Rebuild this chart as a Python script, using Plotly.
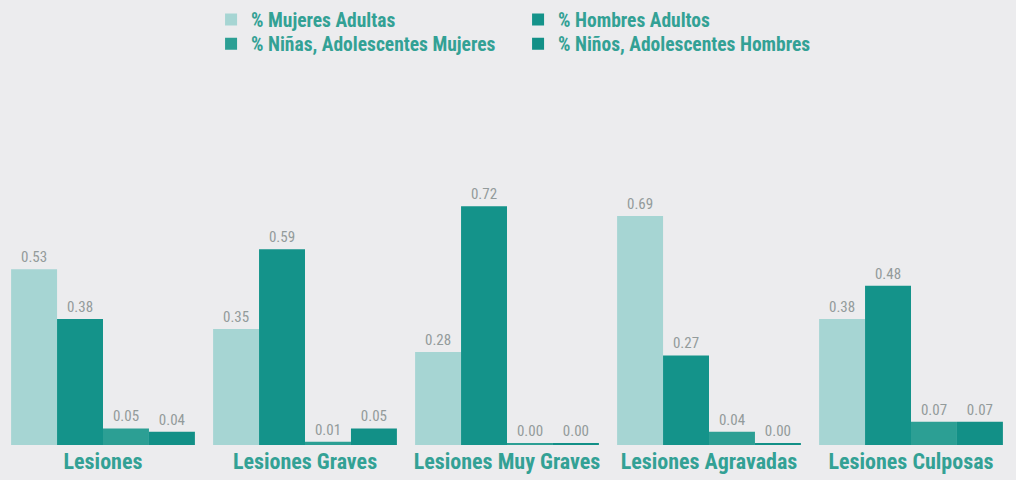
import plotly.graph_objects as go

# %%
categories = ['Lesiones', 'Lesiones Graves', 'Lesiones Muy Graves',
              'Lesiones Agravadas', 'Lesiones Culposas']

mujeres_adultas = [0.53, 0.35, 0.28, 0.69, 0.38]
hombres_adultos = [0.38, 0.59, 0.72, 0.27, 0.48]
ninas_adolescentes = [0.05, 0.01, 0.004, 0.04, 0.07]
ninos_adolescentes = [0.04, 0.05, 0.004, 0.004, 0.07]

series_names = [
    '% Mujeres Adultas',
    '% Hombres Adultos',
    '% Niñas, Adolescentes Mujeres',
    '% Niños, Adolescentes Hombres',
]
colors = ['#a6d5d3', '#14938a', '#2c9f94', '#129087']
legend_rows = ['legend', 'legend', 'legend2', 'legend2']

# %%
narrow = 'Liberation Sans Narrow, Arial Narrow, Roboto Condensed, sans-serif'
teal_text = '#33a195'

fig = go.Figure()

for name, values, color, leg in zip(
        series_names,
        [mujeres_adultas, hombres_adultos, ninas_adolescentes, ninos_adolescentes],
        colors, legend_rows):
    fig.add_trace(
        go.Bar(
            name=name,
            x=categories,
            y=values,
            legend=leg,
            marker_color=color,
            marker_line_width=0,
            texttemplate='%{y:.2f}',
            textposition='outside',
            textfont=dict(family=narrow, size=15, color='#939b9b'),
            cliponaxis=False,
        )
    )

legend_style = dict(
    orientation='h',
    xanchor='left',
    yanchor='middle',
    entrywidth=262,
    font=dict(family=narrow, size=19.5, color=teal_text, weight='bold'),
    bgcolor='rgba(0,0,0,0)',
    itemclick=False,
    itemdoubleclick=False,
)

fig.update_layout(
    width=1016,
    height=480,
    barmode='group',
    bargap=0.09,
    bargroupgap=0,
    paper_bgcolor='#ececee',
    plot_bgcolor='#ececee',
    margin=dict(l=2, r=4, t=172, b=35),
    font=dict(family=narrow, color=teal_text),
    showlegend=True,
    legend=dict(legend_style, x=0.207, y=1.557),
    legend2=dict(legend_style, x=0.207, y=1.469),
    xaxis=dict(
        showgrid=False,
        showline=False,
        ticks='',
        ticklabelstandoff=1,
        tickfont=dict(family=narrow, size=22, color=teal_text, weight='bold'),
    ),
    yaxis=dict(
        range=[0, 0.82],
        visible=False,
        showgrid=False,
        zeroline=False,
    ),
)

fig.write_html(
    "out.html",
    config={'displayModeBar': False},
    post_script="document.body.style.margin='0';",
)
